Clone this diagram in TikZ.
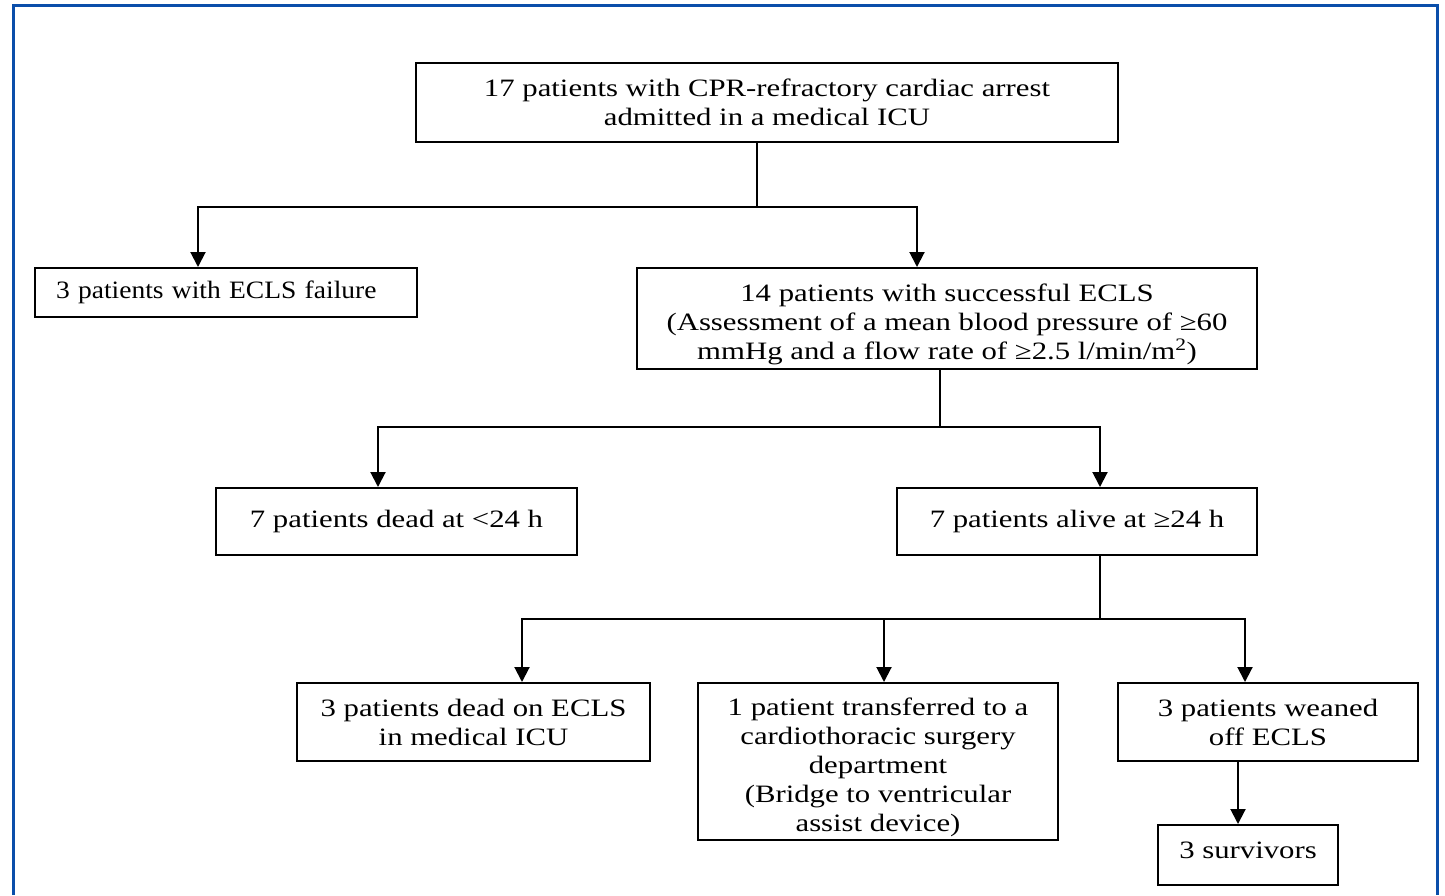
\documentclass[tikz,border=0pt]{standalone}
\usepackage{fontspec}
\setmainfont{Liberation Serif}[FakeStretch=1.23]
\newfontfamily\narrowserif{Liberation Serif}[FakeStretch=1.10]
\usepackage{tikz}
\usetikzlibrary{arrows.meta}
\definecolor{frameblue}{RGB}{10,78,170}
\tikzset{
    flownode/.style={
        draw,
        line width=2pt,
        font=\fontsize{25}{29}\selectfont,
        align=center,
        inner sep=2pt
    }
}

\begin{document}
\begin{tikzpicture}
[
    x=1pt, y=-1pt,
    link/.style={
        line width=2pt
    },
    arrowlink/.style={
        line width=2pt,
        -{Triangle[width=15pt,length=15pt]}
    },
]
\useasboundingbox (0,0) rectangle (1445,895);
\draw[frameblue, line width=3pt] (13,895) -- (13,5) -- (1437,5) -- (1437,895);

\node[flownode, minimum width=702pt, minimum height=79pt] (admitted) at (767,102.5)
    {17 patients with CPR-refractory cardiac arrest\\admitted in a medical ICU};
\node[flownode, font=\fontsize{25}{29}\narrowserif, minimum height=49pt, text width=340pt, align=left, inner xsep=21pt] (failure) at (226,292.5)
    {3 patients with ECLS failure};
\node[flownode, minimum width=620pt, minimum height=101pt] (success) at (947,318.5)
    {\rule{0pt}{30pt}14 patients with successful ECLS\\(Assessment of a mean blood pressure of ≥60\\mmHg and a flow rate of ≥2.5 l/min/m\textsuperscript{2})};
\node[flownode, minimum width=361pt, minimum height=67pt] (dead24) at (396.5,521.5)
    {7 patients dead at <24 h};
\node[flownode, minimum width=360pt, minimum height=67pt] (alive24) at (1077,521.5)
    {7 patients alive at ≥24 h};
\node[flownode, minimum width=353pt, minimum height=78pt] (deadicu) at (473.5,722)
    {3 patients dead on ECLS\\in medical ICU};
\node[flownode, minimum width=360pt, minimum height=157pt] (transfer) at (878,761.5)
    {\rule{0pt}{30pt}1 patient transferred to a\\cardiothoracic surgery\\department\\(Bridge to ventricular\\assist device)};
\node[flownode, minimum width=300pt, minimum height=78pt] (weaned) at (1268,722)
    {3 patients weaned\\off ECLS};
\node[flownode, minimum width=180pt, minimum height=60pt] (survivors) at (1248,855)
    {3 survivors\rule[-10pt]{0pt}{10pt}};

% first split
\coordinate (split1) at (757,207);
\draw[link] (admitted.south -| split1) -- (split1);
\draw[arrowlink] (split1) -| ([xshift=-28pt]failure.north);
\draw[arrowlink] (split1) -| ([xshift=-30pt]success.north);

% second split
\coordinate (split2) at (940,427);
\draw[link] (success.south -| split2) -- (split2);
\draw[arrowlink] (split2) -| ([xshift=-18.5pt]dead24.north);
\draw[arrowlink] (split2) -| ([xshift=23pt]alive24.north);

% third split
\coordinate (split3) at (1100,619);
\draw[link] (alive24.south -| split3) -- (split3);
\draw[arrowlink] (split3) -| ([xshift=48.5pt]deadicu.north);
\draw[arrowlink] (split3) -| ([xshift=6pt]transfer.north);
\draw[arrowlink] (split3) -| ([xshift=-23pt]weaned.north);

\draw[arrowlink] ([xshift=-30pt]weaned.south) -- ([xshift=-10pt]survivors.north);
\end{tikzpicture}
\end{document}
